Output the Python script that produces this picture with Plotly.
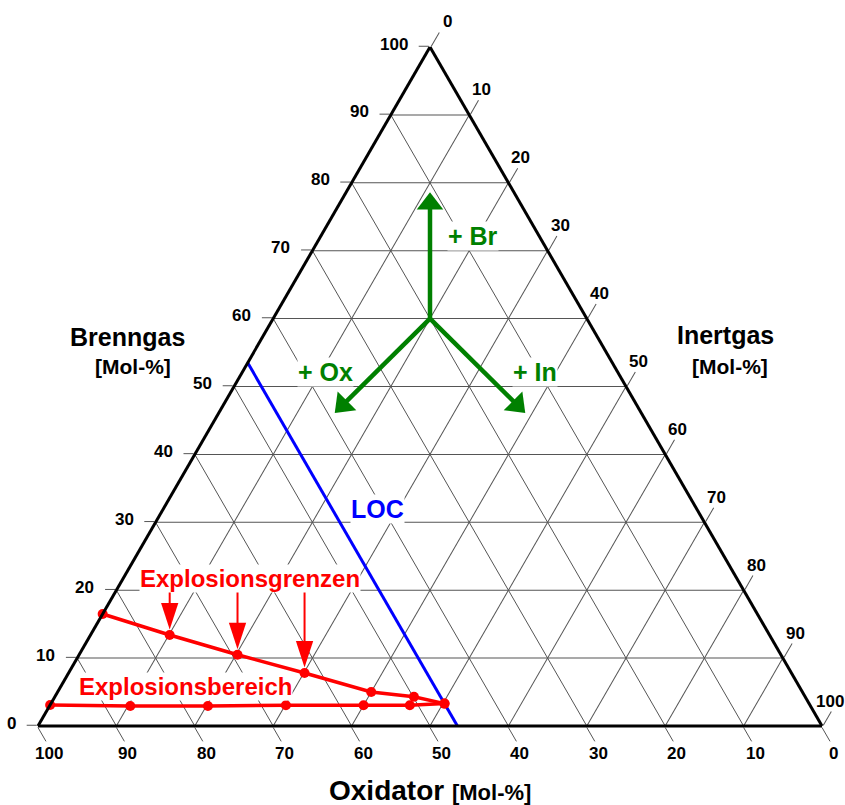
import math
import plotly.graph_objects as go

# Ternary composition diagram: fuel (Brenngas), oxidiser (Oxidator), inert gas (Inertgas), all in Mol-%

# Upper explosion limit curve
ueg_br = [16.5, 13.4, 10.5, 7.8, 5.0, 4.3, 3.3]
ueg_ox = [83.5, 76.5, 69.3, 62.1, 55.0, 49.9, 46.5]
ueg_in = [0.0, 10.1, 20.2, 30.1, 40.0, 45.8, 50.2]

# Lower explosion limit curve
ueg_low_br = [3.1, 2.95, 2.95, 3.05, 3.05, 3.05, 3.3]
ueg_low_ox = [96.9, 86.75, 76.85, 66.85, 56.95, 51.05, 46.5]
ueg_low_in = [0.0, 10.3, 20.2, 30.1, 40.0, 45.9, 50.2]

# Limiting oxygen concentration line (constant Oxidator share)
loc_br = [53.5, 0.0]
loc_ox = [46.5, 46.5]
loc_in = [0.0, 53.5]

# Direction arrows: common origin and tips towards each component
arrow_origin = (60.0, 20.0, 20.0)
arrow_tips = {
    "Br": (78.6, 10.7, 10.7),
    "Ox": (46.1, 39.1, 14.8),
    "In": (46.1, 14.8, 39.1),
}

# Pointer arrows from the "Explosionsgrenzen" label to points of the upper curve
pointer_idx = [1, 2, 3]
pointer_top_br = 19.8
pointer_gap = 0.8

tick_vals = list(range(0, 101, 10))
tick_text = [str(v) for v in tick_vals]

FONT = "Liberation Sans, Arial, sans-serif"
GREEN = "#008000"
RED = "#ff0000"
BLUE = "#0000ff"
TICK_SIZE = 17
GREEN_HEAD = 23          # triangle marker size of the green arrow heads

W, H = 845, 805
ML, MR, MT, MB = 20, 5, 47, 79
PW, PH = W - ML - MR, H - MT - MB

# equilateral triangle as laid out by the ternary subplot (height-limited)
TRI_H = PH
TRI_W = TRI_H * 2 / math.sqrt(3)
TRI_X0 = ML + PW / 2 - TRI_W / 2
TRI_Y0 = MT


def px(x, y):
    """pixel position on the page -> paper coordinates"""
    return (x - ML) / PW, 1 - (y - MT) / PH


def tern_px(a, b, c):
    """ternary composition (Mol-%) -> pixel position on the page"""
    s = a + b + c
    a, c = a / s, c / s
    return TRI_X0 + TRI_W * (c + a / 2), TRI_Y0 + TRI_H * (1 - a)


def lift(a, b, c, da):
    """move a ternary point straight up by da (in Brenngas units)"""
    return a + da, b - da / 2, c - da / 2


def back_off(p0, p1, dist_px):
    """point on the segment p0->p1 that lies dist_px pixels before p1"""
    x0, y0 = tern_px(*p0)
    x1, y1 = tern_px(*p1)
    f = dist_px / math.hypot(x1 - x0, y1 - y0)
    return tuple(q1 + f * (q0 - q1) for q0, q1 in zip(p0, p1))


fig = go.Figure()

# LOC line
fig.add_trace(go.Scatterternary(
    a=loc_br, b=loc_ox, c=loc_in, mode="lines",
    line=dict(color=BLUE, width=3), hoverinfo="skip", cliponaxis=False,
))

# explosion limits
for a_, b_, c_ in ((ueg_br, ueg_ox, ueg_in), (ueg_low_br, ueg_low_ox, ueg_low_in)):
    fig.add_trace(go.Scatterternary(
        a=a_, b=b_, c=c_, mode="lines+markers",
        line=dict(color=RED, width=3.5), marker=dict(color=RED, size=10),
        cliponaxis=False,
    ))


def arrow_trace(p0, p1, color, width, symbol, head):
    """straight line from p0 to p1 with a head marker at p1 oriented along the line"""
    return go.Scatterternary(
        a=[p0[0], p1[0]], b=[p0[1], p1[1]], c=[p0[2], p1[2]],
        mode="lines+markers",
        line=dict(color=color, width=width),
        marker=dict(symbol=["circle", symbol], size=[0, head], color=color,
                    opacity=1, line=dict(width=0), angleref="previous"),
        hoverinfo="skip", cliponaxis=False,
    )


# green composition arrows (triangle centred half a marker size behind the tip)
for key, tip in arrow_tips.items():
    head = back_off(arrow_origin, tip, GREEN_HEAD / 2)
    fig.add_trace(arrow_trace(arrow_origin, head, GREEN, 4.5, "triangle-up", GREEN_HEAD))

# red pointer arrows
for i in pointer_idx:
    a0, b0, c0 = ueg_br[i], ueg_ox[i], ueg_in[i]
    tip = lift(a0, b0, c0, pointer_gap)
    top = lift(a0, b0, c0, pointer_top_br - a0)
    fig.add_trace(arrow_trace(top, tip, RED, 2, "arrow", 28))

axis_common = dict(
    tickmode="array", tickvals=tick_vals,
    showgrid=True, gridcolor="#555555", gridwidth=1,
    showline=True, linecolor="black", linewidth=3,
    ticks="outside", tickcolor="#555555", tickwidth=1,
    showticklabels=False,
    min=0, title=dict(text=""),
)

fig.update_layout(
    width=W, height=H,
    margin=dict(l=ML, r=MR, t=MT, b=MB),
    paper_bgcolor="white",
    showlegend=False,
    font=dict(family=FONT),
    ternary=dict(
        sum=100,
        bgcolor="white",
        aaxis=dict(axis_common, ticklen=10),
        baxis=dict(axis_common, ticklen=16),
        caxis=dict(axis_common, ticklen=16),
    ),
)


def label(text, x, y, size, color="black", bg=None, xanchor="center"):
    xp, yp = px(x, y)
    fig.add_annotation(
        x=xp, y=yp, xref="paper", yref="paper", text=text, showarrow=False,
        xanchor=xanchor, yanchor="middle",
        font=dict(family=FONT, size=size, color=color, weight="bold"),
        bgcolor=bg, borderpad=0,
    )


# tick labels next to the outer end of each tick
for v, t in zip(tick_vals, tick_text):
    x, y = tern_px(v, 100 - v, 0)          # Brenngas, left edge
    label(t, x - 21, y - 3, TICK_SIZE, xanchor="right")
    x, y = tern_px(0, v, 100 - v)          # Oxidator, bottom edge
    label(t, x + 11.5, y + 27, TICK_SIZE)
    x, y = tern_px(100 - v, 0, v)          # Inertgas, right edge
    label(t, x + 23, y - 25, TICK_SIZE, xanchor="right")

label("Brenngas", 127, 337, 25)
label("[Mol-%]", 133, 366, 21)
label("Inertgas", 725, 335, 25)
label("[Mol-%]", 730, 366, 21)
label("Oxidator <span style='font-size:22px'>[Mol-%]</span>", 430, 790, 28)

label("+ Br", 473, 236, 25, GREEN, "white")
label("+ Ox", 325, 372, 25, GREEN, "white")
label("+ In", 535, 372, 25, GREEN, "white")
label("LOC", 377, 509, 25, BLUE, "white")
label("Explosionsgrenzen", 250, 578, 24, RED, "white")
label("Explosionsbereich", 185, 686, 24, RED, "white")

fig.write_html("out.html")
